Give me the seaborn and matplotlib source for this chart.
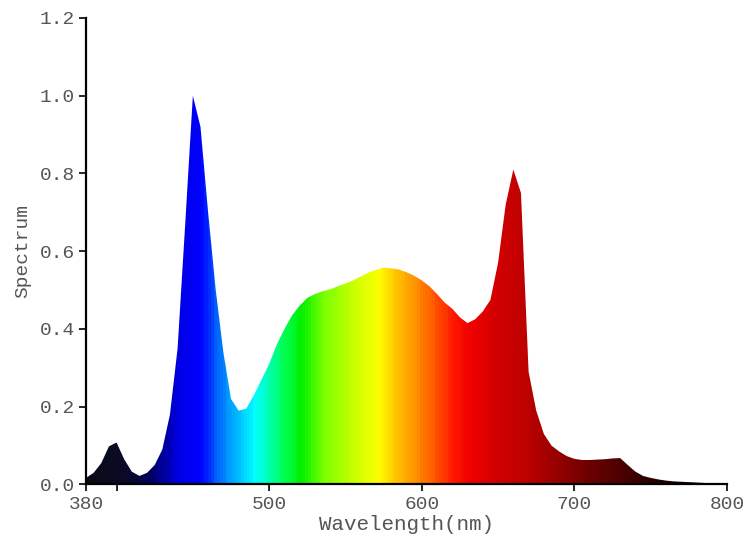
import numpy as np
import matplotlib
matplotlib.use("Agg")
import matplotlib.pyplot as plt
import seaborn as sns
from matplotlib.colors import LinearSegmentedColormap

# spectrum, 5 nm steps
wavelength = list(range(380, 805, 5))
spectrum = [
    0.017, 0.030, 0.055, 0.098, 0.108, 0.065, 0.033, 0.022, 0.030, 0.050,
    0.090, 0.180, 0.350, 0.670, 1.000, 0.920, 0.700, 0.500, 0.340, 0.220,
    0.190, 0.195, 0.230, 0.270, 0.310, 0.360, 0.400, 0.435, 0.460, 0.480,
    0.490, 0.497, 0.502, 0.510, 0.517, 0.525, 0.535, 0.545, 0.552, 0.558,
    0.556, 0.553, 0.546, 0.537, 0.525, 0.510, 0.490, 0.468, 0.452, 0.430,
    0.415, 0.425, 0.445, 0.475, 0.570, 0.720, 0.810, 0.750, 0.290, 0.190,
    0.130, 0.100, 0.085, 0.073, 0.066, 0.063, 0.063, 0.064, 0.065, 0.067,
    0.068, 0.050, 0.033, 0.022, 0.017, 0.013, 0.010, 0.008, 0.007, 0.006,
    0.005, 0.004, 0.003, 0.003, 0.002,
]
x_ticks = [380, 400, 500, 600, 700, 800]
x_ticklabels = ["380", "", "500", "600", "700", "800"]
y_ticks = [0.0, 0.2, 0.4, 0.6, 0.8, 1.0, 1.2]

# wavelength -> colour anchors (visible spectrum rendering)
spec_anchors = [
    (380, "#0a0a14"), (405, "#0a0a2a"), (420, "#00005a"), (430, "#0000a0"),
    (440, "#0000e6"), (455, "#0000ff"), (462, "#0050ff"), (472, "#0096ff"),
    (482, "#00d2ff"), (490, "#00ffff"), (500, "#00ffaa"), (510, "#00ff50"),
    (520, "#00f000"), (535, "#78ff00"), (555, "#c8ff00"), (572, "#ffff00"),
    (582, "#ffc800"), (595, "#ff9600"), (608, "#ff5a00"), (622, "#ff1400"),
    (632, "#f00000"), (650, "#d20000"), (668, "#be0000"), (690, "#960000"),
    (710, "#6e0000"), (735, "#460000"), (760, "#1e0000"), (780, "#0a0000"),
    (800, "#050000"),
]
lo, hi = spec_anchors[0][0], spec_anchors[-1][0]
spec_cmap = LinearSegmentedColormap.from_list(
    "spec", [((w - lo) / (hi - lo), c) for w, c in spec_anchors])

sns.set_style("ticks")
plt.rcParams["font.family"] = ["Liberation Mono", "DejaVu Sans Mono"]

fig = plt.figure(figsize=(7.5, 5.37), dpi=100)
ax = fig.add_axes([0.1147, 0.0978, 0.8546, 0.8687])

sns.lineplot(x=wavelength, y=spectrum, ax=ax, linewidth=0, color="black")

# coloured fill: gradient image clipped to the area under the curve
area = ax.fill_between(wavelength, spectrum, 0, color="none", linewidth=0)
grad = np.linspace(0, 1, (hi - lo) // 2 + 1).reshape(1, -1)
img = ax.imshow(grad, cmap=spec_cmap, extent=[lo, hi, 0, 1.2],
                aspect="auto", interpolation="nearest", origin="lower")
img.set_clip_path(area.get_paths()[0], transform=ax.transData)

ax.set_xlim(380, 800)
ax.set_ylim(0, 1.2)
ax.set_xticks(x_ticks)
ax.set_xticklabels(x_ticklabels)
ax.set_yticks(y_ticks)
ax.set_yticklabels([f"{v:.1f}" for v in y_ticks])

sns.despine(ax=ax)
for s in ["left", "bottom"]:
    ax.spines[s].set_linewidth(1.6)
    ax.spines[s].set_color("black")
ax.tick_params(axis="both", direction="out", length=5, width=1.2,
               color="black", labelsize=14, labelcolor="#555555", pad=3)

ax.set_xlabel("Wavelength(nm)", fontsize=15, color="#555555", labelpad=2)
ax.set_ylabel("Spectrum", fontsize=14, color="#555555", labelpad=6)

fig.savefig("out.png", dpi=100)
